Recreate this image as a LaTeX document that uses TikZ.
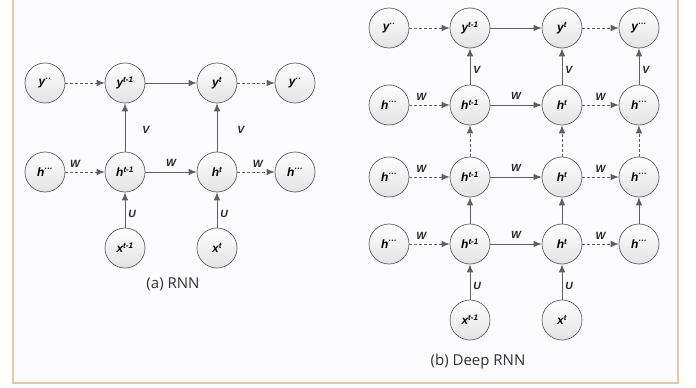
\documentclass[tikz,border=0pt]{standalone}
\usepackage{fontspec}
\setmainfont{Liberation Sans}
\setsansfont{Open Sans}
\usepackage{xcolor}
\usetikzlibrary{positioning,arrows.meta}

\definecolor{framec}{RGB}{228,200,172}
\definecolor{linec}{RGB}{95,95,95}

\tikzset{
  unit/.style={circle, draw=linec, line width=0.7pt, top color=white, bottom color=gray!22,
    minimum size=40pt, inner sep=0pt, font=\fontsize{12}{12}\selectfont\bfseries\itshape},
  fwd/.style={draw=linec, line width=0.8pt, -{Latex[length=8pt,width=6.5pt]}},
  skip/.style={fwd, dashed, dash pattern=on 3pt off 2pt},
  wlab/.style={font=\fontsize{10.5}{10.5}\selectfont\bfseries\itshape, text=black!85, inner sep=1pt},
  caption/.style={font=\sffamily\fontsize{15}{15}\selectfont, text=black!80}
}

\begin{document}
\begin{tikzpicture}[x=1pt,y=-1pt]
  \useasboundingbox (0,0) rectangle (696,388);
  \fill[white] (0,0) rectangle (696,388);
  \fill[yellow!6] (13,0) rectangle (678,5);
  \draw[framec, line width=1.2pt, fill=blue!1] (13,-5) rectangle (678,383);

  % (a) RNN
  \node[unit] (yl0) at (45,83)   {y\textsuperscript{··}};
  \node[unit] (yl1) at (125,83)  {y\textsuperscript{t-1}};
  \node[unit] (yl2) at (217,83)  {y\textsuperscript{t}};
  \node[unit] (yl3) at (295,83)  {y\textsuperscript{··}};
  \node[unit] (hl0) at (45,172)  {h\textsuperscript{···}};
  \node[unit] (hl1) at (125,172) {h\textsuperscript{t-1}};
  \node[unit] (hl2) at (217,172) {h\textsuperscript{t}};
  \node[unit] (hl3) at (295,172) {h\textsuperscript{···}};
  \node[unit] (xl1) at (125,248) {x\textsuperscript{t-1}};
  \node[unit] (xl2) at (217,248) {x\textsuperscript{t}};

  \draw[skip] (yl0) -- (yl1);
  \draw[fwd]  (yl1) -- (yl2);
  \draw[skip] (yl2) -- (yl3);
  \draw[skip] (hl0) -- node[wlab, above=3pt, pos=0.25] {W} (hl1);
  \draw[fwd]  (hl1) -- node[wlab, above=4pt] {W} (hl2);
  \draw[skip] (hl2) -- node[wlab, above=3pt, pos=0.55] {W} (hl3);
  \draw[fwd]  (hl1) -- node[wlab, right=16pt, pos=0.45] {V} (yl1);
  \draw[fwd]  (hl2) -- node[wlab, right=19pt, pos=0.45] {V} (yl2);
  \draw[fwd]  (xl1) -- node[wlab, right=2pt, pos=0.4] {U} (hl1);
  \draw[fwd]  (xl2) -- node[wlab, right=2pt, pos=0.4] {U} (hl2);

  \node[caption] (capa) at (173,284) {(a) RNN};

  % (b) Deep RNN
  \node[unit] (yd0) at (389,28) {y\textsuperscript{··}};
  \node[unit] (yd1) at (470,28) {y\textsuperscript{t-1}};
  \node[unit] (yd2) at (562,28) {y\textsuperscript{t}};
  \node[unit] (yd3) at (639,28) {y\textsuperscript{···}};
  \foreach \r/\yy in {1/105,2/177,3/244} {
    \node[unit] (hd\r0) at (389,\yy) {h\textsuperscript{···}};
    \node[unit] (hd\r1) at (470,\yy) {h\textsuperscript{t-1}};
    \node[unit] (hd\r2) at (562,\yy) {h\textsuperscript{t}};
    \node[unit] (hd\r3) at (639,\yy) {h\textsuperscript{···}};
  }
  \node[unit] (xd1) at (470,320) {x\textsuperscript{t-1}};
  \node[unit] (xd2) at (562,320) {x\textsuperscript{t}};

  \draw[skip] (yd0) -- (yd1);
  \draw[fwd]  (yd1) -- (yd2);
  \draw[skip] (yd2) -- (yd3);
  \foreach \r in {1,2,3} {
    \draw[skip] (hd\r0) -- node[wlab, above=3pt, pos=0.3] {W} (hd\r1);
    \draw[fwd]  (hd\r1) -- node[wlab, above=4pt, pos=0.5] {W} (hd\r2);
    \draw[skip] (hd\r2) -- node[wlab, above=3pt, pos=0.5] {W} (hd\r3);
  }
  \foreach \c in {1,2,3} {
    \draw[fwd]  (hd1\c) -- node[wlab, right=2pt, pos=0.4] {V} (yd\c);
    \draw[skip] (hd2\c) -- (hd1\c);
    \draw[fwd]  (hd3\c) -- (hd2\c);
  }
  \draw[fwd] (xd1) -- node[wlab, right=2pt, pos=0.4] {U} (hd31);
  \draw[fwd] (xd2) -- node[wlab, right=2pt, pos=0.4] {U} (hd32);

  \node[caption] (capb) at (478,362) {(b) Deep RNN};
\end{tikzpicture}
\end{document}
